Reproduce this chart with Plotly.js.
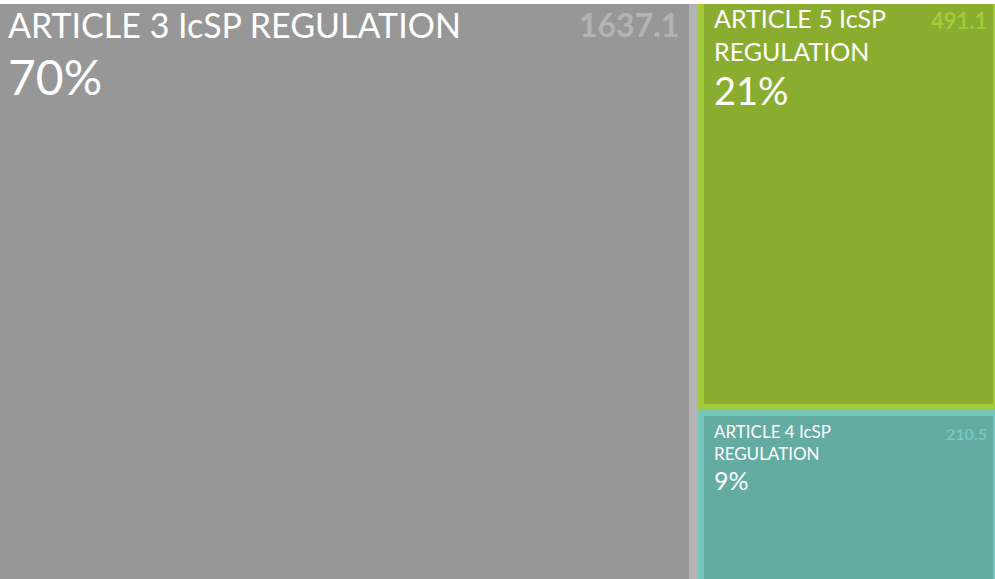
<!DOCTYPE html>
<html>
<head>
<meta charset="utf-8">
<script src="https://cdn.plot.ly/plotly-3.0.1.min.js"></script>
<style>html,body{margin:0;padding:0;background:#fff;}#chart{width:995px;height:579px;}</style>
</head>
<body>
<div id="chart"></div>
<script>
// ---- data ----
const categories = ["ARTICLE 3 IcSP REGULATION", "ARTICLE 5 IcSP REGULATION", "ARTICLE 4 IcSP REGULATION"];
const labelText = ["ARTICLE 3 IcSP REGULATION", "ARTICLE 5 IcSP<br>REGULATION", "ARTICLE 4 IcSP<br>REGULATION"];
const values = [1637.1, 491.1, 210.5];

// ---- styles ----
const darkColors = ["#979797", "#8aad2f", "#64aba1"];
const lightColors = ["#b3b3b3", "#a4c93b", "#75c7bc"];
const nameSizes = [34, 25, 17];
const pctSizes = [48, 38, 25];
const valSizes = [32, 22, 16];
const FONT = "Lato, 'Open Sans', sans-serif";

// ---- layout geometry from data (treemap: big tile left, rest stacked right) ----
const total = values.reduce((a, b) => a + b, 0);
const rightSum = values[1] + values[2];
const split = values[2] / rightSum;          // boundary between right tiles (fraction of height)
const fullW = 997, fullH = 580;               // full chart extent in px (slightly cropped)
const px = total / fullW, py = 1 / fullH;

// tiles: [x0, x1, y0, y1]
const tiles = [
  [0, values[0], 0, 1],
  [values[0], total, split, 1],
  [values[0], total, 0, split]
];
// inner (dark) rectangles: insets in px (left, right, bottom, top)
const insets = [[0, 9, 0, 0], [6, 4, 6, 0], [6, 4, 0, 6]];
const inner = tiles.map((t, i) => [
  t[0] + insets[i][0] * px, t[1] - insets[i][1] * px,
  t[2] + insets[i][2] * py, t[3] - insets[i][3] * py
]);

function barTrace(rects, colors) {
  return {
    type: 'bar',
    x: rects.map(r => (r[0] + r[1]) / 2),
    width: rects.map(r => r[1] - r[0]),
    base: rects.map(r => r[2]),
    y: rects.map(r => r[3] - r[2]),
    text: categories,
    textposition: 'none',
    marker: {color: colors, line: {width: 0}},
    hoverinfo: 'skip',
    showlegend: false
  };
}

const annotations = [];
const nameShift = [[6, 2], [8, 3], [8, -3]];
const pctShift = [[6, -42], [8, -61], [8, -47]];
const valShift = [[-8, 1], [-4, -1], [-4, -6]];
tiles.forEach((t, i) => {
  const ix = inner[i][0], top = inner[i][3];
  annotations.push({
    x: ix, y: top, xref: 'x', yref: 'y', xanchor: 'left', yanchor: 'top', align: 'left',
    xshift: nameShift[i][0], yshift: nameShift[i][1],
    text: labelText[i], showarrow: false,
    font: {family: FONT, size: nameSizes[i], color: '#ffffff'}
  });
  annotations.push({
    x: ix, y: top, xref: 'x', yref: 'y', xanchor: 'left', yanchor: 'top',
    xshift: pctShift[i][0], yshift: pctShift[i][1],
    text: Math.round(values[i] / total * 100) + '%', showarrow: false,
    font: {family: FONT, size: pctSizes[i], color: '#ffffff'}
  });
  annotations.push({
    x: inner[i][1], y: top, xref: 'x', yref: 'y', xanchor: 'right', yanchor: 'top',
    xshift: valShift[i][0], yshift: valShift[i][1],
    text: values[i].toFixed(1), showarrow: false,
    font: {family: FONT, size: valSizes[i], color: lightColors[i], weight: 'bold'}
  });
});

const layout = {
  width: 995, height: 579,
  margin: {l: 0, r: 0, t: 4, b: 0, pad: 0},
  paper_bgcolor: '#ffffff', plot_bgcolor: '#ffffff',
  barmode: 'overlay', bargap: 0,
  xaxis: {range: [0, total * 995 / fullW], visible: false, fixedrange: true},
  yaxis: {range: [5 * py, 1], visible: false, fixedrange: true},
  annotations: annotations,
  showlegend: false
};

Plotly.newPlot('chart', [barTrace(tiles, lightColors), barTrace(inner, darkColors)], layout, {staticPlot: true, displayModeBar: false});
</script>
</body>
</html>
